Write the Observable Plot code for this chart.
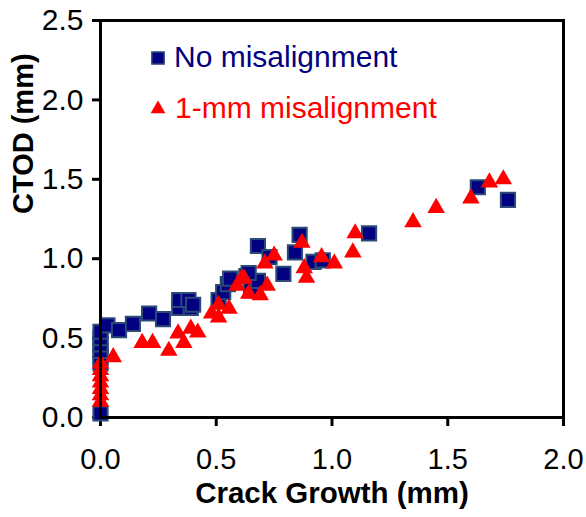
<!DOCTYPE html>
<html><head><meta charset="utf-8">
<script src="https://cdn.jsdelivr.net/npm/d3@7"></script>
<script src="https://cdn.jsdelivr.net/npm/@observablehq/plot@0.6"></script>
<style>
body{margin:0;background:#fff;}
#wrap{position:relative;width:586px;height:517px;}
</style></head><body><div id="wrap"></div>
<script>
const FONT = '"Liberation Sans", Arial, sans-serif';
const seriesNames = ["No misalignment", "1-mm misalignment"];
const xTicks = [0, 0.5, 1.0, 1.5, 2.0];
const yTicks = [0, 0.5, 1.0, 1.5, 2.0, 2.5];
const xLabel = "Crack Growth (mm)";
const yLabel = "CTOD (mm)";

// No misalignment (squares)
const sqX = [0, 0, 0, 0, 0, 0, 0, 0.03, 0.08, 0.14, 0.21, 0.27, 0.34, 0.39, 0.34, 0.38, 0.40,
  0.51, 0.53, 0.55, 0.56, 0.63, 0.65, 0.68, 0.64, 0.68, 0.73, 0.79, 0.84, 0.86, 0.92, 0.96, 1.16, 1.63, 1.76];
const sqY = [0.025, 0.34, 0.38, 0.42, 0.46, 0.50, 0.54, 0.58, 0.55, 0.59, 0.655, 0.62, 0.69, 0.69, 0.74, 0.74, 0.71,
  0.74, 0.79, 0.84, 0.875, 0.89, 0.80, 0.86, 0.91, 1.08, 1.01, 0.905, 1.04, 1.15, 0.98, 0.99, 1.16, 1.45, 1.37];

// 1-mm misalignment (triangles)
const triX = [0, 0, 0, 0, 0, 0, 0, 0.055, 0.18, 0.225, 0.295, 0.335, 0.36, 0.39, 0.42,
  0.48, 0.51, 0.51, 0.555, 0.59, 0.61, 0.62, 0.64, 0.69, 0.71, 0.72, 0.75,
  0.87, 0.88, 0.89, 0.955, 1.01, 1.09, 1.10, 1.35, 1.45, 1.60, 1.68, 1.74];
const triY = [0.34, 0.30, 0.26, 0.22, 0.18, 0.14, 0.10, 0.38, 0.47, 0.47, 0.42, 0.53, 0.47, 0.56, 0.535,
  0.655, 0.63, 0.71, 0.685, 0.83, 0.875, 0.875, 0.78, 0.77, 0.97, 0.83, 1.02,
  1.10, 0.94, 0.88, 1.01, 0.97, 1.04, 1.16, 1.23, 1.32, 1.38, 1.48, 1.50];

const squares = sqX.map((x, i) => ({x, y: sqY[i]}));
const triangles = triX.map((x, i) => ({x, y: triY[i]}));
const fmt = d3.format(".1f");

const chart = Plot.plot({
  width: 586, height: 517,
  marginLeft: 100, marginRight: 23, marginTop: 20, marginBottom: 100,
  style: {fontFamily: FONT, fontSize: "29px", color: "#000", background: "#fff", overflow: "visible"},
  x: {domain: [0, 2]},
  y: {domain: [0, 2.5]},
  marks: [
    Plot.axisX(xTicks, {tickSize: 9, tickPadding: 22, tickFormat: fmt, label: null, strokeWidth: 3}),
    Plot.axisY(yTicks, {tickSize: 8, tickPadding: 9, tickFormat: fmt, label: null, strokeWidth: 3, fontSize: 30}),
    Plot.dot(squares, {x: "x", y: "y", symbol: "square", r: 8, fill: "#000080", stroke: "#2b4a78", strokeWidth: 2}),
    Plot.dot(triangles, {x: "x", y: "y", symbol: "triangle", r: 6.5, fill: "#ff0000", stroke: "none"}),
    Plot.frame({stroke: "#000", strokeWidth: 3}),
    Plot.text([xLabel], {frameAnchor: "bottom", dy: 85, fontWeight: "bold", fontSize: 29.5}),
    Plot.text([yLabel], {frameAnchor: "left", rotate: -90, dx: -77, dy: -5, fontWeight: "bold", fontSize: 29})
  ]
});
document.getElementById("wrap").appendChild(chart);

// Legend inside the plot area
const svg = d3.select(chart);
const leg = svg.append("g").attr("font-family", FONT).attr("font-size", 30).attr("text-anchor", "start");
const legItems = [
  {name: seriesNames[0], sym: d3.symbolSquare, size: 150, fill: "#000080", stroke: "#2b4a78", color: "#000080", mx: 158, my: 58, tx: 174, ty: 67},
  {name: seriesNames[1], sym: d3.symbolTriangle, size: 95, fill: "#ff0000", stroke: "none", color: "#ff0000", mx: 158, my: 109, tx: 175, ty: 118}
];
for (const it of legItems) {
  leg.append("path").attr("d", d3.symbol(it.sym, it.size)())
    .attr("transform", `translate(${it.mx},${it.my})`)
    .attr("fill", it.fill).attr("stroke", it.stroke).attr("stroke-width", 1.5);
  leg.append("text").attr("x", it.tx).attr("y", it.ty).attr("fill", it.color).attr("text-anchor", "start").text(it.name);
}
</script></body></html>
